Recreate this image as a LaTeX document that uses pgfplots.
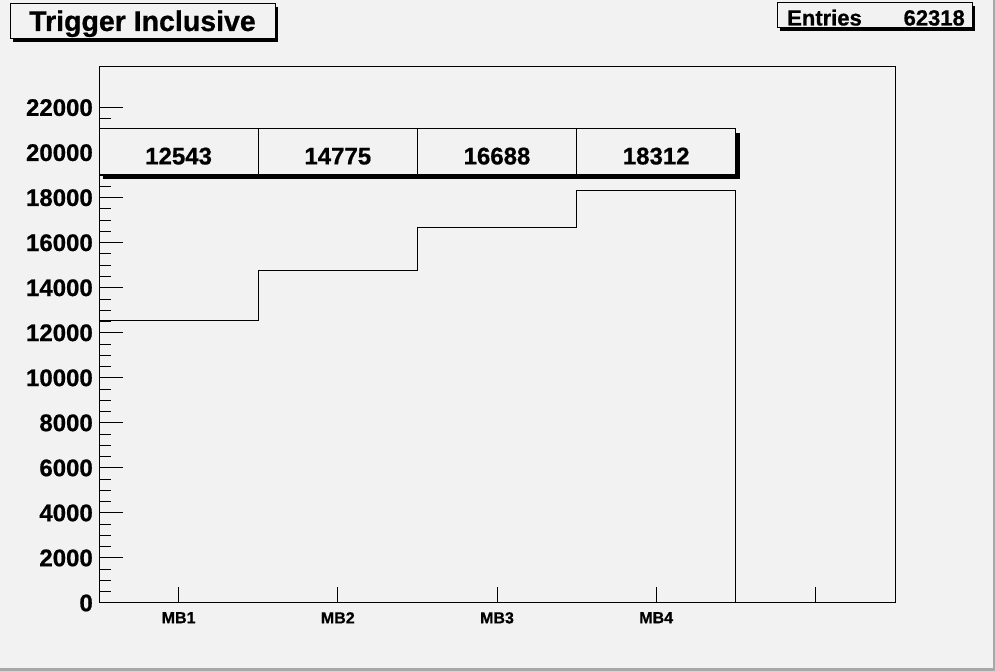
\documentclass[border=0pt]{standalone}
\usepackage{fontspec}
\setmainfont{Liberation Sans}
\newfontfamily\hb{Liberation Sans Bold}[FakeBold=0.7]
\usepackage{pgfplots}
\pgfplotsset{compat=1.18}
\definecolor{canvas}{HTML}{F2F2F2}
\definecolor{frame}{HTML}{A8A8A8}
\begin{document}
\begin{tikzpicture}
% canvas
\fill[canvas] (0pt,0pt) rectangle (995pt,671pt);
\fill[frame] (992.5pt,0pt) rectangle (995pt,671pt);
\fill[frame] (0pt,0pt) rectangle (995pt,2.5pt);
% title box
\fill[black] (13pt,629pt) rectangle (278pt,664pt);
\filldraw[fill=canvas, draw=black, line width=1pt] (10pt,632pt) rectangle (275pt,667pt);
\node[anchor=base, inner sep=0pt, font=\fontsize{28.5}{33}\selectfont\hb] at (142.5pt,640pt) {Trigger Inclusive};
% entries box
\fill[black] (780pt,640pt) rectangle (975pt,665pt);
\filldraw[fill=canvas, draw=black, line width=1pt] (777pt,643pt) rectangle (972pt,668pt);
\node[anchor=base west, inner sep=0pt, font=\fontsize{22}{26}\selectfont\hb] at (787pt,645.5pt) {Entries};
\node[anchor=base east, inner sep=0pt, font=\fontsize{22}{26}\selectfont\hb] at (965pt,645.5pt) {62318};
\begin{axis}[
  at={(99pt,68pt)}, anchor=south west,
  width=796pt, height=536pt, scale only axis,
  xmin=0, xmax=5, ymin=0, ymax=23805.6,
  axis line style={line width=1pt},
  xtick={0.5,1.5,2.5,3.5,4.5},
  xticklabels={MB1,MB2,MB3,MB4,{}},
  ytick={0,2000,...,22000},
  minor y tick num=3,
  tick align=inside,
  xtick pos=bottom, ytick pos=left,
  major tick length=24pt, minor tick length=12pt,
  xtick style={/pgfplots/major tick length=16pt, line width=1pt, black},
  ytick style={line width=1pt, black},
  minor tick style={line width=1pt, black},
  scaled ticks=false,
  /pgf/number format/1000 sep={},
  /pgf/number format/assume math mode=true,
  yticklabel style={font=\fontsize{24}{28}\selectfont\hb, inner sep=0pt, xshift=-6pt},
  xticklabel style={font=\fontsize{16}{19}\selectfont\hb, inner sep=0pt, yshift=-9pt},
  clip=false,
]
\addplot[const plot, black, line width=1pt] coordinates {
  (0,12543) (1,14775) (2,16688) (3,18312) (4,0) (5,0)
};
% text cells
\foreach \i/\v in {0/12543,1/14775,2/16688,3/18312}{
  \edef\tmp{\noexpand\fill[black, xshift=4pt, yshift=-4pt] (axis cs:\i,19020) rectangle (axis cs:\i+1,21070);}\tmp
  \edef\tmp{\noexpand\filldraw[fill=canvas, draw=black, line width=1pt] (axis cs:\i,19020) rectangle (axis cs:\i+1,21070);}\tmp
  \edef\tmp{\noexpand\node[anchor=base, inner sep=0pt, font=\noexpand\fontsize{24}{28}\noexpand\selectfont\noexpand\hb] at (axis cs:\i+0.5,19480) {\v};}\tmp
}
\end{axis}
\end{tikzpicture}
\end{document}
